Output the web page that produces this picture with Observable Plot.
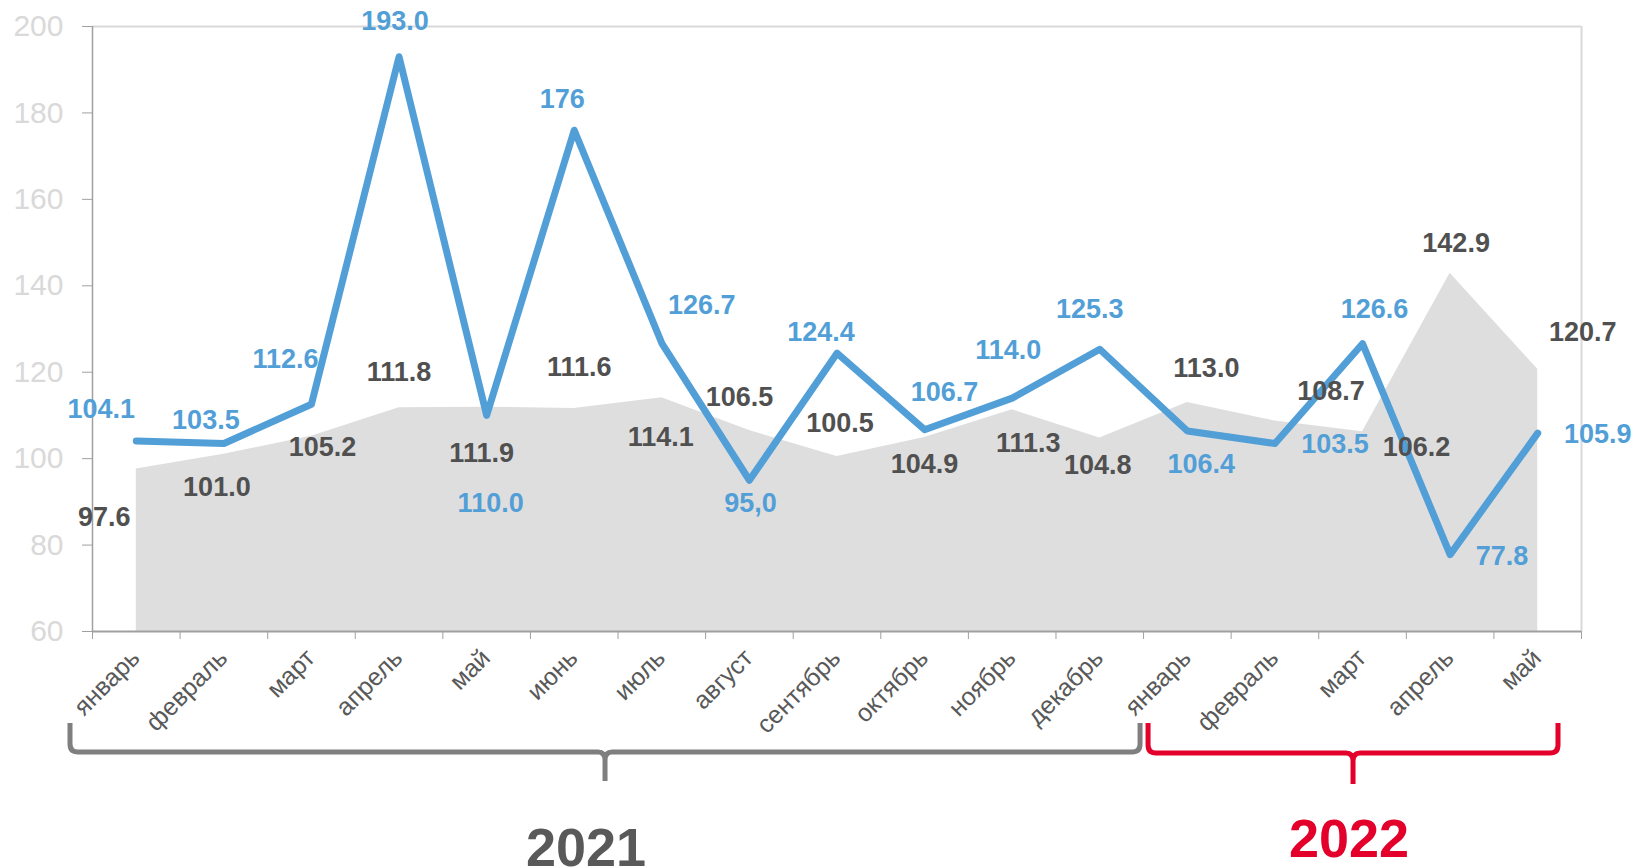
<!DOCTYPE html>
<html>
<head>
<meta charset="utf-8">
<script src="https://cdn.jsdelivr.net/npm/d3@7"></script>
<script src="https://cdn.jsdelivr.net/npm/@observablehq/plot@0.6"></script>
<style>
  html, body { margin: 0; padding: 0; background: #fff; }
  #chart svg { display: block; }
</style>
</head>
<body>
<div id="chart"></div>
<script>
// ---- data ----
const months = ["январь","февраль","март","апрель","май","июнь","июль","август","сентябрь","октябрь","ноябрь","декабрь","январь","февраль","март","апрель","май"];
const lineValues = [104.1,103.5,112.6,193.0,110.0,176,126.7,95.0,124.4,106.7,114.0,125.3,106.4,103.5,126.6,77.8,105.9];
const lineLabels = ["104.1","103.5","112.6","193.0","110.0","176","126.7","95,0","124.4","106.7","114.0","125.3","106.4","103.5","126.6","77.8","105.9"];
const areaValues = [97.6,101.0,105.2,111.8,111.9,111.6,114.1,106.5,100.5,104.9,111.3,104.8,113.0,108.7,106.2,142.9,120.7];
const areaLabels = ["97.6","101.0","105.2","111.8","111.9","111.6","114.1","106.5","100.5","104.9","111.3","104.8","113.0","108.7","106.2","142.9","120.7"];
const yTicks = [60,80,100,120,140,160,180,200];
const years = ["2021","2022"];
const yearSpans = [[0,12],[12,17]];

// ---- label placement (pixel offsets) ----
const lineLabelOffsets = [[-35,-32],[-18,-23],[-26,-45],[-4,-35],[4,88],[-12,-31],[40,-38],[1,23],[-16,-21],[20,-37],[-4,-48],[-10,-40],[14,33],[60,1],[12,-34],[52,2],[60,1]];
const areaLabelOffsets = [[-32,48],[-7,33],[11,11],[0,-35],[-5,46],[5,-41],[-1,40],[-10,-33],[3,-33],[0,27],[16,34],[-2,27],[19,-34],[56,-30],[54,16],[6,-30],[45,-37]];

const BLUE = "#529FD8";
const DARK = "#505050";
const FONT = "'Liberation Sans', Arial, sans-serif";

const rows = months.map((m, i) => ({i, x: i + 0.5, month: m, line: lineValues[i], area: areaValues[i]}));

const labelMarks = [];
rows.forEach((r, i) => {
  labelMarks.push(Plot.text([r], {x: "x", y: "area", text: () => areaLabels[i], dx: areaLabelOffsets[i][0], dy: areaLabelOffsets[i][1], fill: DARK, fontSize: 27, fontWeight: "bold"}));
  labelMarks.push(Plot.text([r], {x: "x", y: "line", text: () => lineLabels[i], dx: lineLabelOffsets[i][0], dy: lineLabelOffsets[i][1], fill: BLUE, fontSize: 27, fontWeight: "bold"}));
});

const plot = Plot.plot({
  width: 1634,
  height: 867,
  marginLeft: 92,
  marginTop: 26,
  marginRight: 53,
  marginBottom: 236,
  style: {fontFamily: FONT, background: "#fff"},
  x: {type: "linear", domain: [0, months.length]},
  y: {domain: [60, 200]},
  marks: [
    Plot.areaY(rows, {x: "x", y1: 60, y2: "area", fill: "#DEDEDE"}),
    Plot.ruleY([200], {stroke: "#D9D9D9", strokeWidth: 2}),
    Plot.ruleX([months.length], {stroke: "#D9D9D9", strokeWidth: 2}),
    Plot.ruleX([0], {stroke: "#A0A0A0", strokeWidth: 1.5}),
    Plot.ruleY([60], {stroke: "#A0A0A0", strokeWidth: 2}),
    Plot.axisY({ticks: yTicks, tickSize: 10, tickPadding: 19, stroke: "#A0A0A0", fill: "#D9D9D9", fontSize: 30, label: null}),
    Plot.axisX({ticks: d3.range(months.length + 1), tickSize: 8, tickFormat: () => "", stroke: "#A0A0A0", label: null}),
    Plot.text(rows, {x: "x", frameAnchor: "bottom", text: "month", rotate: -45, textAnchor: "end", dx: 5, dy: 28, fill: "#595959", fontSize: 25}),
    Plot.lineY(rows, {x: "x", y: "line", stroke: BLUE, strokeWidth: 7, strokeLinecap: "round", strokeLinejoin: "round"}),
    ...labelMarks
  ]
});

document.getElementById("chart").appendChild(plot);

// ---- period braces and year titles ----
const xs = plot.scale("x").apply;
const svg = d3.select(plot);
const braceColors = ["#7F7F7F", "#E3002B"];
const braceGeom = [
  {l: xs(yearSpans[0][0]) - 22, r: xs(yearSpans[0][1]) - 3, top: 723, base: 752, stem: 781, tx: -19, ty: 866},
  {l: xs(yearSpans[1][0]) + 5, r: xs(yearSpans[1][1]) - 23, top: 723, base: 753, stem: 784, tx: -4, ty: 857}
];
braceGeom.forEach((g, k) => {
  const m = (g.l + g.r) / 2;
  const p = `M${g.l},${g.top} L${g.l},${g.base - 8} Q${g.l},${g.base} ${g.l + 8},${g.base} L${m - 7},${g.base} Q${m},${g.base} ${m},${g.base + 8} L${m},${g.stem} M${m},${g.base + 8} Q${m},${g.base} ${m + 7},${g.base} L${g.r - 8},${g.base} Q${g.r},${g.base} ${g.r},${g.base - 8} L${g.r},${g.top}`;
  svg.append("path").attr("d", p).attr("fill", "none").attr("stroke", braceColors[k]).attr("stroke-width", 5);
  svg.append("text").attr("x", m + g.tx).attr("y", g.ty).attr("text-anchor", "middle")
    .attr("font-family", FONT).attr("font-weight", "bold").attr("font-size", 54)
    .attr("fill", k === 0 ? "#595959" : "#E3002B").text(years[k]);
});
</script>
</body>
</html>
